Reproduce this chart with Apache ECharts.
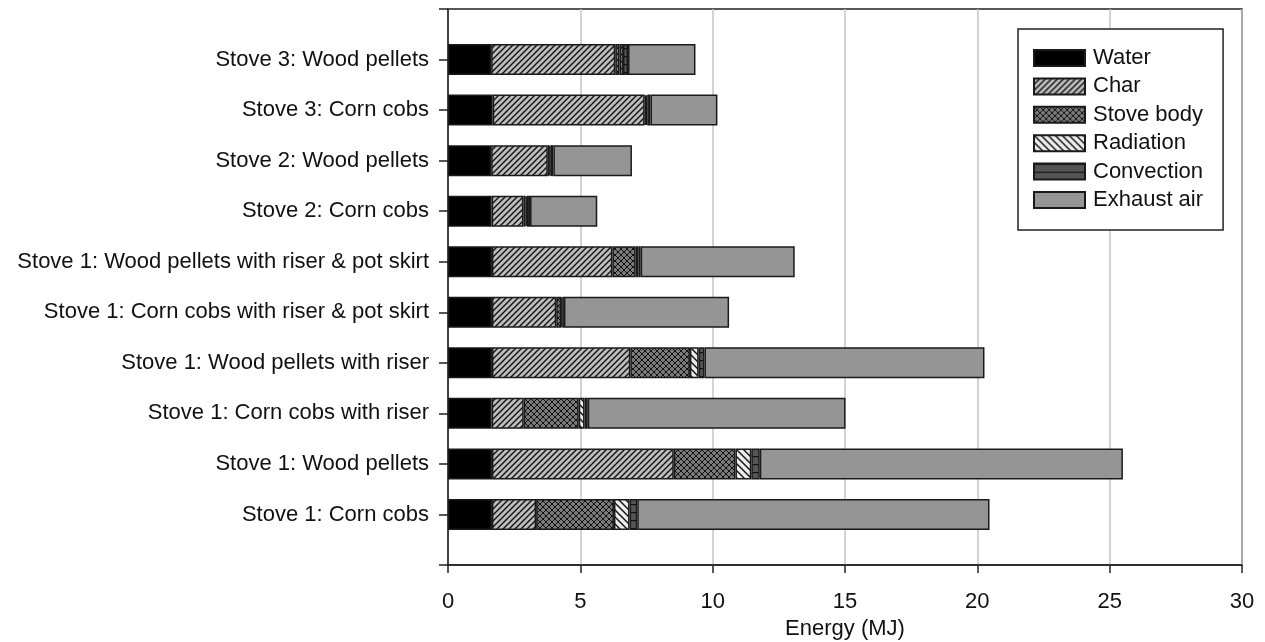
<!DOCTYPE html>
<html>
<head>
<meta charset="utf-8">
<script src="https://cdn.jsdelivr.net/npm/echarts@6/dist/echarts.min.js"></script>
<style>
  html, body { margin: 0; padding: 0; background: #fff; }
  #chart { width: 1265px; height: 642px; }
</style>
</head>
<body>
<div id="chart"></div>
<script>
// categories, bottom to top
const categories = [
  "Stove 1: Corn cobs",
  "Stove 1: Wood pellets",
  "Stove 1: Corn cobs with riser",
  "Stove 1: Wood pellets with riser",
  "Stove 1: Corn cobs with riser & pot skirt",
  "Stove 1: Wood pellets with riser & pot skirt",
  "Stove 2: Corn cobs",
  "Stove 2: Wood pellets",
  "Stove 3: Corn cobs",
  "Stove 3: Wood pellets"
];
const water = [1.66, 1.66, 1.65, 1.66, 1.66, 1.66, 1.65, 1.63, 1.69, 1.63];
const charE = [1.67, 6.87, 1.21, 5.23, 2.43, 4.55, 1.20, 2.14, 5.74, 4.69];
const stoveBody = [2.94, 2.33, 2.08, 2.25, 0.19, 0.88, 0.08, 0.06, 0.05, 0.16];
const radiation = [0.59, 0.60, 0.22, 0.33, 0.04, 0.11, 0.05, 0.04, 0.05, 0.13];
const convection = [0.29, 0.32, 0.12, 0.22, 0.06, 0.08, 0.12, 0.11, 0.12, 0.19];
const exhaust = [13.31, 13.72, 9.74, 10.58, 6.24, 5.82, 2.54, 2.97, 2.53, 2.55];
const xTicks = [0, 5, 10, 15, 20, 25, 30];

// pattern tiles
function tile(size, bg, draw) {
  const c = document.createElement("canvas");
  c.width = size; c.height = size;
  const g = c.getContext("2d");
  g.fillStyle = bg;
  g.fillRect(0, 0, size, size);
  g.strokeStyle = "#111";
  g.lineWidth = 1.4;
  draw(g, size);
  return { image: c, repeat: "repeat" };
}
const fwd = (g, s) => {
  g.beginPath();
  g.moveTo(-1, s + 1); g.lineTo(s + 1, -1);
  g.moveTo(-1, 1); g.lineTo(1, -1);
  g.moveTo(s - 1, s + 1); g.lineTo(s + 1, s - 1);
  g.stroke();
};
const back = (g, s) => {
  g.beginPath();
  g.moveTo(-1, -1); g.lineTo(s + 1, s + 1);
  g.moveTo(s - 1, -1); g.lineTo(s + 1, 1);
  g.moveTo(-1, s - 1); g.lineTo(1, s + 1);
  g.stroke();
};
const charFill = tile(6, "#bdbdbd", fwd);
const bodyFill = tile(6, "#7a7a7a", (g, s) => { g.lineWidth = 1; fwd(g, s); back(g, s); });
const radFill = tile(7, "#ececec", back);
const convFill = tile(8, "#555555", (g, s) => {
  g.beginPath(); g.moveTo(0, 0.5); g.lineTo(s, 0.5); g.stroke();
});

const pad = (arr) => [null].concat(arr, [null]);
const yCats = [""].concat(categories, [""]);

const font = "'Liberation Sans', Arial, sans-serif";
const edge = "#1a1a1a";

function bar(name, data, color) {
  return {
    name: name,
    type: "bar",
    stack: "total",
    barWidth: 31,
    data: pad(data),
    itemStyle: { color: color, borderColor: edge, borderWidth: 1.5 },
    emphasis: { disabled: true }
  };
}

const option = {
  animation: false,
  grid: {
    left: 448,
    right: 23,
    top: 9,
    bottom: 77,
    outerBoundsMode: "none",
    show: true,
    borderColor: "#222",
    borderWidth: 1.5
  },
  legend: {
    orient: "vertical",
    left: 1018,
    top: 29,
    padding: [18, 20, 19, 15],
    itemWidth: 51,
    itemHeight: 16,
    itemGap: 6.4,
    borderColor: "#222",
    borderWidth: 1.5,
    backgroundColor: "#fff",
    textStyle: { fontFamily: font, fontSize: 22, color: "#111", padding: [0, 0, 0, 3] },
    icon: "rect",
    data: ["Water", "Char", "Stove body", "Radiation", "Convection", "Exhaust air"]
  },
  xAxis: {
    type: "value",
    min: xTicks[0],
    max: xTicks[xTicks.length - 1],
    interval: 5,
    name: "Energy (MJ)",
    nameLocation: "middle",
    nameGap: 52,
    nameTextStyle: { fontFamily: font, fontSize: 22, color: "#111" },
    axisLine: { show: true, lineStyle: { color: "#222", width: 1.5 } },
    axisTick: { show: true, length: 8, lineStyle: { color: "#222", width: 1.5 } },
    axisLabel: { fontFamily: font, fontSize: 22, color: "#111", margin: 26 },
    splitLine: { show: true, lineStyle: { color: "#c4c4c4", width: 1.5 } }
  },
  yAxis: {
    type: "category",
    data: yCats,
    boundaryGap: false,
    axisLine: { show: true, lineStyle: { color: "#222", width: 1.5 } },
    axisTick: { show: true, length: 9, interval: 0, lineStyle: { color: "#222", width: 1.5 } },
    axisLabel: { fontFamily: font, fontSize: 22, color: "#111", margin: 19, interval: 0 },
    splitLine: { show: false }
  },
  series: [
    bar("Water", water, "#000000"),
    bar("Char", charE, charFill),
    bar("Stove body", stoveBody, bodyFill),
    bar("Radiation", radiation, radFill),
    bar("Convection", convection, convFill),
    bar("Exhaust air", exhaust, "#959595")
  ]
};

const myChart = echarts.init(document.getElementById("chart"));
myChart.setOption(option);
</script>
</body>
</html>
